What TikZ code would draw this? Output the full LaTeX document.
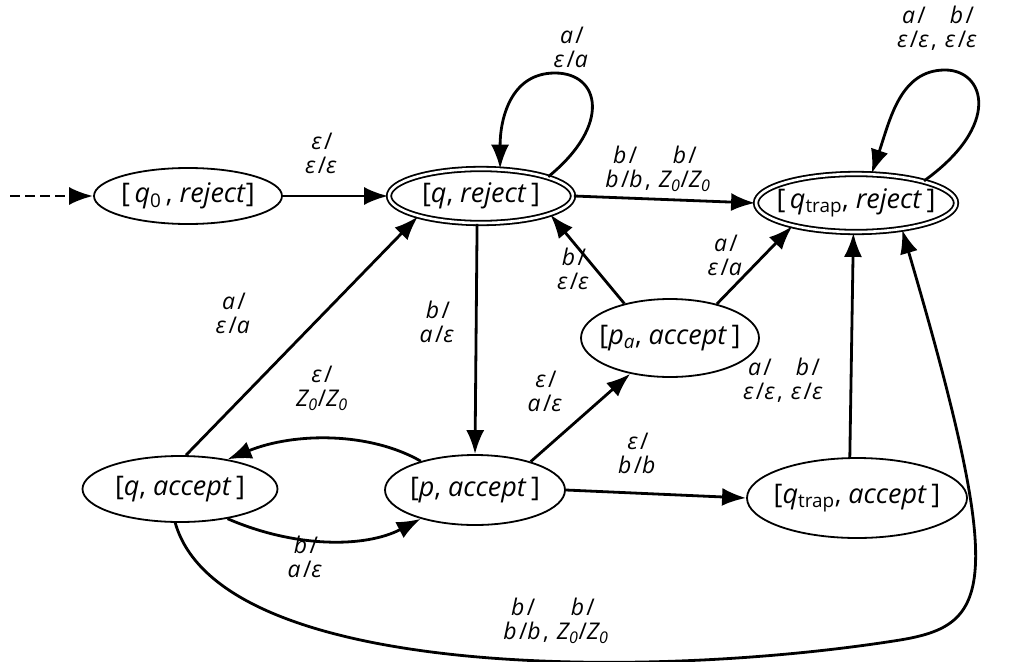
\documentclass[tikz,border=0pt]{standalone}
\usepackage{fontspec}
\setmainfont{Open Sans}
\newfontfamily\labfont{Open Sans}[LetterSpace=10]
\usetikzlibrary{shapes.geometric,arrows.meta}
\newcommand\lbl[3]{\begin{tabular}[b]{@{}c@{}}\textit{#1}/\\[-3pt]\textit{#2}/\textit{#3}\end{tabular}}
\newcommand\st[1]{\makebox[0pt]{#1}}
\begin{document}
\begin{tikzpicture}[x=1pt,y=-1pt,
  state/.style={ellipse, draw, line width=1.8pt, inner sep=0pt, font=\fontsize{27}{30}\selectfont},
  acc/.style={state, double, double distance=2.6pt},
  edge/.style={line width=2.8pt, -{Latex[length=24pt,width=18pt]}},
  lab/.style={font=\labfont\fontsize{23}{27}\selectfont, inner sep=1pt}]
\useasboundingbox (0,0) rectangle (1016,661);
% states
\node[state, minimum width=188, minimum height=56] (q0r) at (188,196) {\st{[\,\textit{q}\textsubscript{0}\,, \textit{reject}]}};
\node[acc, minimum width=184, minimum height=54] (qr) at (481,196) {\st{[\textit{q}, \textit{reject}\,]}};
\node[acc, minimum width=200, minimum height=58] (qtr) at (856,203) {\st{[\,\textit{q}\textsubscript{trap}, \textit{reject}\,]}};
\node[state, minimum width=178, minimum height=78] (pa) at (670,338) {\st{[\textit{p}\textsubscript{\textit{a}}, \textit{accept}\,]}};
\node[state, minimum width=195, minimum height=66] (qa) at (180,489) {\st{[\textit{q}, \textit{accept}\,]}};
\node[state, minimum width=180, minimum height=70] (pac) at (475,490) {\st{[\textit{p}, \textit{accept}\,]}};
\node[state, minimum width=220, minimum height=80] (qta) at (857,498) {\st{[\textit{q}\textsubscript{trap}, \textit{accept}\,]}};
\coordinate (init) at (10,196);
% edges
\draw[edge, dash pattern=on 10pt off 5pt] (init) -- (q0r);
\draw[edge] (q0r) -- (qr);
\draw[edge] (qr.16) .. controls (612,125) and (600,73) .. (555,73) .. controls (510,73) and (500,120) .. (qr.55);
\draw[edge] (qr.east) -- (qtr.west);
\draw[edge] (qtr.18) .. controls (1002,125) and (985,70) .. (945,70) .. controls (900,70) and (890,120) .. (qtr.62);
\draw[edge] (qr.262) -- (pac.north);
\draw[edge] (pa.143) -- (qr.-15);
\draw[edge] (pa.36) -- (qtr.-160);
\draw[edge] (pac.27) -- (pa.-138);
\draw[edge] (pac.east) -- (qta.west);
\draw[edge] (qta.100) -- (qtr.-95);
\draw[edge] (qa.80) -- (qr.-162);
\draw[edge] (pac.152) .. controls (370,432) and (295,432) .. (qa.32);
\draw[edge] (qa.-32) .. controls (295,548) and (365,548) .. (pac.-152);
\draw[edge] (qa.262) .. controls (220,680) and (650,680) .. (900,640) .. controls (990,625) and (1008,590) .. (qtr.-30);
% labels
\node[lab] (l1) at (322,156) {\lbl{ε}{ε}{ε}};
\node[lab] (l2) at (572,50) {\lbl{a}{ε}{a}};
\node[lab] (l3) at (658,170) {\lbl{b}{b}{b}, \lbl{b}{Z\textsubscript{0}}{Z\textsubscript{0}}};
\node[lab] (l4) at (938,30) {\lbl{a}{ε}{ε}, \lbl{b}{ε}{ε}};
\node[lab] (l5) at (234,316) {\lbl{a}{ε}{a}};
\node[lab] (l6) at (438,325) {\lbl{b}{a}{ε}};
\node[lab] (l7) at (574,272) {\lbl{b}{ε}{ε}};
\node[lab] (l8) at (726,258) {\lbl{a}{ε}{a}};
\node[lab] (l9) at (546,394) {\lbl{ε}{a}{ε}};
\node[lab] (l10) at (322,389) {\lbl{ε}{Z\textsubscript{0}}{Z\textsubscript{0}}};
\node[lab] (l11) at (638,456) {\lbl{ε}{b}{b}};
\node[lab] (l12) at (784,382) {\lbl{a}{ε}{ε}, \lbl{b}{ε}{ε}};
\node[lab] (l13) at (306,560) {\lbl{b}{a}{ε}};
\node[lab] (l14) at (556,622) {\lbl{b}{b}{b}, \lbl{b}{Z\textsubscript{0}}{Z\textsubscript{0}}};
\end{tikzpicture}
\end{document}
